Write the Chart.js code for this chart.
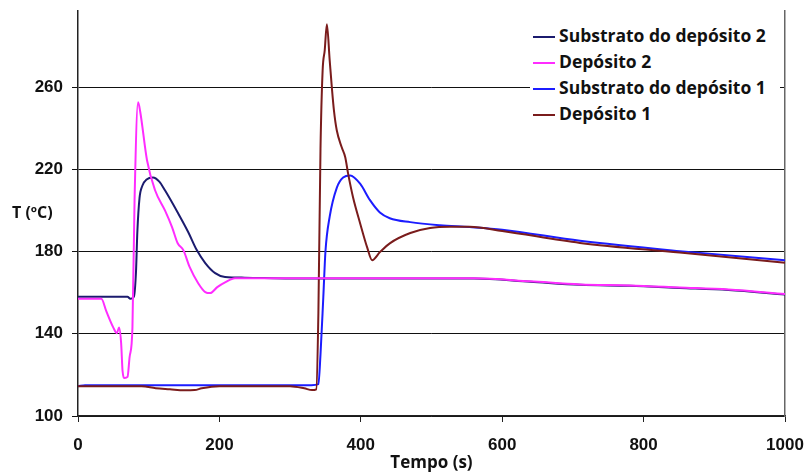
<!DOCTYPE html>
<html>
<head>
<meta charset="utf-8">
<script src="https://cdn.jsdelivr.net/npm/chart.js@4.4.1/dist/chart.umd.min.js"></script>
<style>
  body { margin: 0; background: #fff; }
  #wrap { position: relative; width: 808px; height: 473px; }
  #yTitle {
    position: absolute; left: 12px; top: 201px;
    font: bold 16px "Open Sans", sans-serif; color: #111;
  }
  #legend {
    position: absolute; left: 530px; top: 22px; width: 250px; height: 104px;
    background: #fff; font: bold 17.5px "Open Sans", sans-serif; color: #111;
  }
  #legend div { height: 26px; line-height: 26px; white-space: nowrap; }
  #legend span.sw {
    display: inline-block; width: 22px; height: 2px; vertical-align: middle;
    margin: 0 4px 0 3px;
  }
</style>
</head>
<body>
<div id="wrap">
  <canvas id="c" width="808" height="473"></canvas>
  <div id="yTitle">T (ºC)</div>
  <div id="legend"></div>
</div>
<script>
const xTicks = [0, 200, 400, 600, 800, 1000]
const yTicks = [100, 140, 180, 220, 260]

const sub2Time = [0, 70, 74, 79, 82, 84, 87, 91, 97, 106, 115, 123, 141, 156, 168, 180, 194, 208, 236, 300, 560, 640, 710, 780, 851, 920, 1000]
const sub2Temp = [158, 158, 157, 158, 170, 190, 206, 212, 215, 216, 214, 209.8, 199, 189.4, 180.7, 174.4, 169.5, 167.6, 167.3, 166.9, 166.9, 165.3, 163.8, 163.3, 162.3, 161.3, 159.1]

const dep2Time = [0, 33, 40, 50, 55, 58, 61, 63, 66, 70, 73, 77, 80, 85, 88, 97.6, 109, 123, 133, 141, 149, 158, 170, 180, 187, 197, 208, 222, 300, 560, 640, 710, 780, 851, 920, 1000]
const dep2Temp = [157, 157, 151, 143, 140.3, 143, 135.5, 122, 118.5, 119, 128.7, 143, 205, 252.6, 248, 224.4, 209.8, 200, 191.9, 184, 180.7, 172.4, 164.6, 160.3, 159.8, 162.7, 165, 167, 167, 167, 165.5, 164, 163.5, 162.5, 161.5, 159.3]

const sub1Time = [0, 10, 330, 340, 343, 347, 350, 356, 366, 375, 385, 399, 413, 427, 441, 470, 512, 554, 600, 710, 851, 1000]
const sub1Temp = [114.5, 115, 115, 115.5, 130, 158, 180, 197, 211, 216, 217, 213, 205, 199, 196.2, 194.3, 192.8, 191.9, 190.6, 185.2, 180.2, 175.8]

const dep1Time = [0, 90, 110, 130, 150, 165, 175, 200, 300, 320, 331, 337, 340, 343, 346, 349, 352, 356, 359, 362, 366, 373, 378, 382, 389, 399, 409, 416, 427, 441, 470, 498, 526, 554, 600, 710, 851, 1000]
const dep1Temp = [114.5, 114.5, 113.5, 113, 112.5, 112.6, 113.5, 114.5, 114.5, 113.5, 112.6, 113, 150, 230, 268, 278, 290.5, 273, 260, 248.7, 239, 230.7, 225.9, 218, 206.4, 193.8, 182, 175.8, 179.7, 184, 189, 191.4, 192, 192, 190, 184.2, 179.5, 174.5]

const seriesNames = ["Substrato do depósito 2", "Depósito 2", "Substrato do depósito 1", "Depósito 1"]
const seriesColors = ["#1b1b6e", "#ff2cff", "#1c1cff", "#7a1c1c"]

const toPoints = (t, v) => t.map((x, i) => ({ x: x, y: v[i] }))
const allPoints = [
  toPoints(sub2Time, sub2Temp),
  toPoints(dep2Time, dep2Temp),
  toPoints(sub1Time, sub1Temp),
  toPoints(dep1Time, dep1Temp)
]
// pink drawn above the navy tail, red above blue
const drawOrder = [1, 0, 1, 0]

const tickFont = { family: "Liberation Sans, Arial, sans-serif", size: 17, weight: "bold" }

new Chart(document.getElementById("c").getContext("2d"), {
  type: "line",
  data: {
    datasets: allPoints.map((pts, i) => ({
      label: seriesNames[i],
      data: pts,
      borderColor: seriesColors[i],
      borderWidth: 2,
      pointRadius: 0,
      cubicInterpolationMode: "monotone",
      order: drawOrder[i]
    }))
  },
  options: {
    responsive: false,
    animation: false,
    layout: { padding: { top: 11, left: 0, right: 0, bottom: 0 } },
    plugins: { legend: { display: false }, tooltip: { enabled: false } },
    scales: {
      x: {
        type: "linear", min: 0, max: 1000,
        afterBuildTicks: (s) => { s.ticks = xTicks.map(v => ({ value: v })) },
        afterFit: (s) => { s.height = 57; s.paddingLeft = 0; s.paddingRight = 0 },
        ticks: { font: tickFont, color: "#111", padding: 13, maxRotation: 0, callback: (v) => String(v) },
        grid: { drawOnChartArea: false, drawTicks: true, tickLength: 6, color: "#222" },
        border: { color: "#222", width: 1.5 },
        title: {
          display: true, text: "Tempo (s)", color: "#111",
          font: { family: "Open Sans, sans-serif", size: 17, weight: "bold" },
          padding: { top: 0, bottom: 0 }
        }
      },
      y: {
        type: "linear", min: 100, max: 297,
        afterBuildTicks: (s) => { s.ticks = yTicks.map(v => ({ value: v })) },
        afterFit: (s) => { s.width = 78; s.paddingTop = 0; s.paddingBottom = 0 },
        ticks: { font: tickFont, color: "#111", padding: 9 },
        grid: { color: "#111", lineWidth: 1, tickLength: 6 },
        border: { color: "#222", width: 1.5 }
      },
      y2: {
        type: "linear", position: "right", min: 100, max: 297,
        afterFit: (s) => { s.width = 23; s.paddingTop = 0; s.paddingBottom = 0 },
        ticks: { display: false },
        grid: { display: false },
        border: { display: true, color: "#666", width: 1.5 }
      }
    }
  }
})

const legend = document.getElementById("legend")
seriesNames.forEach((name, i) => {
  const row = document.createElement("div")
  const sw = document.createElement("span")
  sw.className = "sw"
  sw.style.background = seriesColors[i]
  row.appendChild(sw)
  row.appendChild(document.createTextNode(name))
  legend.appendChild(row)
})
</script>
</body>
</html>
